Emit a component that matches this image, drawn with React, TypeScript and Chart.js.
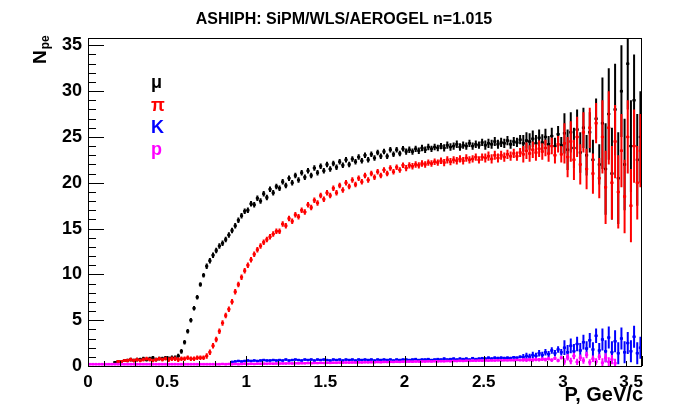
import React, { useEffect, useRef } from "react";
import { Chart, registerables } from "chart.js";

Chart.register(...registerables);

// Histogram binning (TH1: 175 bins from 0 to 3.5 GeV/c)
const N_BINS = 175;
const P_LOW = 0;
const P_HIGH = 3.5;

const chartTitle = "ASHIPH: SiPM/WLS/AEROGEL n=1.015";
const xTitle = "P, GeV/c";
const yTitleMain = "N";
const yTitleSub = "pe";
const particleLabels = ["μ", "π", "K", "p"];

// N_pe per bin, muons
const muValues = [
  null, null, null, null, null, null, null, null, 0.4, 0.5,
  0.5, 0.6, 0.6, 0.7, 0.6, 0.7, 0.7, 0.8, 0.7, 0.8,
  0.9, 0.7, 0.8, 0.8, 0.9, 0.8, 0.9, 0.9, 1.1, 1.6,
  2.6, 3.8, 5.0, 6.3, 7.5, 8.9, 9.9, 10.9, 11.5, 12.1,
  12.6, 13.1, 13.4, 13.8, 14.3, 14.8, 15.3, 15.9, 16.4, 16.9,
  17.0, 17.7, 17.6, 18.3, 18.0, 18.8, 18.4, 19.3, 18.9, 19.6,
  19.4, 20.1, 19.7, 20.5, 20.0, 20.8, 20.3, 21.1, 20.6, 21.3,
  20.8, 21.6, 21.1, 21.8, 21.3, 22.0, 21.5, 22.1, 21.7, 22.3,
  21.9, 22.5, 22.0, 22.6, 22.3, 22.8, 22.4, 23.0, 22.5, 23.1,
  22.7, 23.3, 22.9, 23.4, 22.9, 23.6, 23.1, 23.6, 23.2, 23.7,
  23.4, 23.6, 23.4, 23.7, 23.5, 23.8, 23.6, 23.9, 23.7, 23.9,
  23.8, 24.0, 23.8, 24.1, 23.9, 24.0, 24.2, 23.9, 24.1, 24.0,
  24.3, 24.0, 24.2, 24.1, 24.4, 24.1, 24.3, 24.2, 24.5, 24.2,
  24.4, 24.3, 24.6, 24.2, 24.5, 24.4, 24.7, 24.3, 24.6, 24.5,
  24.8, 24.3, 24.9, 24.4, 25.0, 24.2, 25.1, 24.0, 25.3, 24.1,
  25.4, 23.6, 25.5, 23.8, 25.8, 23.3, 26.0, 23.0, 25.5, 22.5,
  27.0, 22.0, 26.5, 21.5, 27.5, 21.0, 28.0, 20.5, 30.0, 22.0,
  33.0, 24.0, 29.0, 22.5, 25.0,
];

// N_pe per bin, pions
const piValues = [
  null, null, null, null, null, null, null, null, null, 0.5,
  0.5, 0.6, 0.6, 0.7, 0.6, 0.7, 0.6, 0.7, 0.8, 0.7,
  0.6, 0.7, 0.8, 0.7, 0.8, 0.7, 0.8, 0.8, 0.7, 0.8,
  0.8, 0.9, 0.8, 0.8, 0.9, 0.9, 0.9, 1.1, 1.5, 2.2,
  2.9, 3.8, 4.7, 5.5, 6.2, 7.0, 8.1, 8.9, 9.7, 10.4,
  11.0, 11.6, 12.2, 12.7, 13.1, 13.5, 13.8, 14.1, 14.4, 14.7,
  14.7, 15.5, 15.3, 16.1, 15.8, 16.5, 16.3, 17.0, 16.8, 17.6,
  17.3, 18.1, 17.8, 18.6, 18.2, 18.9, 18.6, 19.4, 18.9, 19.7,
  19.2, 20.0, 19.6, 20.3, 19.8, 20.5, 20.1, 20.8, 20.3, 21.0,
  20.6, 21.2, 20.8, 21.4, 21.0, 21.6, 21.2, 21.7, 21.4, 21.9,
  21.6, 21.9, 21.8, 22.0, 21.9, 22.1, 22.0, 22.2, 22.1, 22.3,
  22.2, 22.4, 22.2, 22.5, 22.3, 22.5, 22.4, 22.6, 22.4, 22.7,
  22.5, 22.6, 22.8, 22.5, 22.8, 22.7, 22.9, 22.6, 23.0, 22.7,
  23.0, 22.8, 23.1, 22.9, 23.2, 22.9, 23.3, 23.1, 23.5, 23.2,
  23.6, 23.3, 23.7, 23.4, 23.8, 23.2, 24.0, 23.0, 24.2, 23.1,
  24.3, 22.8, 24.5, 22.5, 25.0, 22.0, 25.5, 21.5, 26.0, 21.0,
  26.5, 20.5, 25.0, 19.5, 26.0, 20.0, 24.5, 19.0, 23.5, 18.5,
  25.0, 17.5, 24.0, 20.0, 23.5,
];

// N_pe per bin, kaons
const kValues = [
  null, null, null, null, null, null, null, null, null, null,
  null, null, null, null, null, null, null, null, null, null,
  null, null, null, null, null, null, null, null, null, null,
  null, null, null, null, null, null, null, null, null, null,
  null, null, null, null, null, 0.45, 0.5, 0.55, 0.5, 0.55,
  0.6, 0.55, 0.6, 0.55, 0.6, 0.65, 0.6, 0.6, 0.65, 0.6,
  0.65, 0.6, 0.7, 0.6, 0.65, 0.7, 0.65, 0.6, 0.7, 0.65,
  0.7, 0.6, 0.7, 0.65, 0.7, 0.65, 0.6, 0.7, 0.65, 0.7,
  0.6, 0.7, 0.65, 0.7, 0.6, 0.7, 0.65, 0.7, 0.65, 0.7,
  0.6, 0.7, 0.65, 0.7, 0.65, 0.7, 0.6, 0.7, 0.65, 0.7,
  0.7, 0.65, 0.7, 0.75, 0.65, 0.7, 0.7, 0.75, 0.65, 0.7,
  0.75, 0.7, 0.8, 0.7, 0.75, 0.8, 0.7, 0.8, 0.75, 0.8,
  0.7, 0.85, 0.75, 0.8, 0.85, 0.8, 0.9, 0.8, 0.9, 0.85,
  0.9, 0.85, 0.9, 0.85, 0.95, 0.9, 1.0, 0.95, 1.1, 1.0,
  1.2, 1.1, 1.4, 1.2, 1.5, 1.3, 1.7, 1.4, 1.8, 1.5,
  2.0, 1.5, 2.2, 1.6, 2.4, 1.7, 2.6, 1.9, 2.8, 1.8,
  3.3, 1.7, 2.9, 1.6, 3.1, 1.5, 2.7, 1.4, 3.0, 1.5,
  2.5, 1.6, 3.2, 1.4, 2.0,
];

// N_pe per bin, protons
const pValues = [
  0.2, 0.2, 0.2, 0.2, 0.2, 0.2, 0.2, 0.2, 0.2, 0.2,
  0.2, 0.2, 0.2, 0.2, 0.2, 0.2, 0.2, 0.2, 0.2, 0.2,
  0.2, 0.2, 0.2, 0.2, 0.2, 0.2, 0.2, 0.2, 0.2, 0.2,
  0.2, 0.2, 0.2, 0.2, 0.2, 0.2, 0.2, 0.2, 0.2, 0.2,
  0.2, 0.2, 0.22, 0.2, 0.22, 0.2, 0.22, 0.2, 0.22, 0.24,
  0.22, 0.24, 0.22, 0.25, 0.24, 0.25, 0.24, 0.26, 0.25, 0.27,
  0.26, 0.28, 0.27, 0.29, 0.28, 0.3, 0.29, 0.31, 0.3, 0.32,
  0.31, 0.33, 0.32, 0.34, 0.33, 0.35, 0.34, 0.36, 0.35, 0.37,
  0.36, 0.38, 0.37, 0.39, 0.38, 0.4, 0.39, 0.41, 0.4, 0.42,
  0.41, 0.43, 0.42, 0.44, 0.43, 0.45, 0.44, 0.46, 0.45, 0.47,
  0.46, 0.48, 0.47, 0.49, 0.48, 0.5, 0.49, 0.51, 0.5, 0.52,
  0.51, 0.53, 0.52, 0.54, 0.53, 0.55, 0.54, 0.56, 0.55, 0.57,
  0.56, 0.58, 0.57, 0.59, 0.58, 0.6, 0.59, 0.61, 0.6, 0.62,
  0.61, 0.63, 0.62, 0.64, 0.63, 0.66, 0.64, 0.67, 0.65, 0.69,
  0.66, 0.72, 0.68, 0.75, 0.7, 0.8, 0.65, 0.85, 0.6, 0.9,
  0.5, 0.95, 0.55, 1.1, 0.45, 0.9, 0.6, 1.2, 0.4, 0.8,
  0.5, 1.0, 0.35, 0.9, 0.45, 0.7, 0.3, null, null, null,
  null, null, null, null, null,
];

// Typical statistical error per 0.25 GeV/c slice (14 slices)
const muErrors = [0.15, 0.2, 0.25, 0.3, 0.3, 0.3, 0.3, 0.3, 0.35, 0.4, 0.5, 0.9, 2.2, 5.0];
const piErrors = [0.15, 0.2, 0.25, 0.3, 0.3, 0.3, 0.3, 0.3, 0.35, 0.4, 0.5, 0.9, 2.2, 4.0];
const kErrors = [0.1, 0.1, 0.1, 0.1, 0.1, 0.1, 0.1, 0.1, 0.1, 0.12, 0.15, 0.35, 0.8, 1.2];
const pErrors = [0.05, 0.05, 0.05, 0.05, 0.05, 0.05, 0.06, 0.06, 0.07, 0.08, 0.1, 0.2, 0.35, 0.5];

const seriesColors = ["#000000", "#ff0000", "#0000ff", "#ff00ff"];

const FONT = "'Liberation Sans', Arial, Helvetica, sans-serif";

const binWidth = (P_HIGH - P_LOW) / N_BINS;
const binCenters = Array.from({ length: N_BINS }, (_, i) => P_LOW + (i + 0.5) * binWidth);

function toPoints(values: (number | null)[]) {
  return binCenters.map((x, i) => ({ x, y: values[i] }));
}

const errorBarPlugin = {
  id: "errorBars",
  afterDatasetDraw(chart: any, args: any) {
    const ds = chart.data.datasets[args.index];
    if (!ds.errors) return;
    const { ctx, chartArea, scales } = chart;
    const xs = scales.x;
    const ys = scales.y;
    ctx.save();
    ctx.beginPath();
    ctx.rect(chartArea.left, chartArea.top, chartArea.right - chartArea.left, chartArea.bottom - chartArea.top);
    ctx.clip();
    ctx.strokeStyle = ds.borderColor;
    ctx.lineWidth = 2;
    ctx.beginPath();
    ds.data.forEach((pt: any) => {
      if (pt.y === null || pt.y === undefined) return;
      const slice = Math.min(ds.errors.length - 1, Math.floor(pt.x / 0.25));
      const e = ds.errors[slice];
      const px = xs.getPixelForValue(pt.x);
      const py = ys.getPixelForValue(pt.y);
      const y1 = ys.getPixelForValue(pt.y - e);
      const y2 = ys.getPixelForValue(pt.y + e);
      const x1 = xs.getPixelForValue(pt.x - binWidth / 2);
      const x2 = xs.getPixelForValue(pt.x + binWidth / 2);
      ctx.moveTo(px, y1);
      ctx.lineTo(px, y2);
      ctx.moveTo(x1, py);
      ctx.lineTo(x2, py);
    });
    ctx.stroke();
    ctx.restore();
  },
};

const framePlugin = {
  id: "rootFrame",
  afterDraw(chart: any) {
    const { ctx, chartArea, scales } = chart;
    const xs = scales.x;
    const ys = scales.y;
    const { left, right, top, bottom } = chartArea;
    ctx.save();
    ctx.strokeStyle = "#000";
    ctx.lineWidth = 1;
    ctx.strokeRect(left + 0.5, top + 0.5, right - left - 1, bottom - top);
    // y ticks (inside)
    ctx.beginPath();
    for (let k = 0; k <= 35; k++) {
      const py = Math.round(ys.getPixelForValue(k)) + 0.5;
      const len = k % 5 === 0 ? 16 : 8;
      ctx.moveTo(left, py);
      ctx.lineTo(left + len, py);
    }
    // x ticks (inside)
    for (let k = 0; k <= 35; k++) {
      const px = Math.round(xs.getPixelForValue(k / 10)) + 0.5;
      const len = k % 5 === 0 ? 10 : 5;
      ctx.moveTo(px, bottom);
      ctx.lineTo(px, bottom - len);
    }
    ctx.stroke();

    ctx.fillStyle = "#000";

    // x tick labels (last one kept inside the frame, as in ROOT)
    ctx.font = `bold 17px ${FONT}`;
    ctx.textBaseline = "alphabetic";
    const xt = xs.ticks;
    xt.forEach((t: any, i: number) => {
      const px = xs.getPixelForValue(t.value);
      const lab = String(Math.round(t.value * 10) / 10);
      if (i === xt.length - 1) {
        ctx.textAlign = "right";
        ctx.fillText(lab, px + 1, 387);
      } else {
        ctx.textAlign = "center";
        ctx.fillText(lab, px, 387);
      }
    });

    // Title
    ctx.font = `bold 16px ${FONT}`;
    ctx.textAlign = "center";
    ctx.fillText(chartTitle, 344, 24);

    // x axis title
    ctx.font = `bold 20px ${FONT}`;
    ctx.textAlign = "right";
    ctx.fillText(xTitle, right + 1, 401);

    // y axis title, rotated with subscript
    ctx.save();
    ctx.translate(46, 64);
    ctx.rotate(-Math.PI / 2);
    ctx.textAlign = "left";
    ctx.font = `bold 19px ${FONT}`;
    ctx.fillText(yTitleMain, 0, 0);
    const w = ctx.measureText(yTitleMain).width;
    ctx.font = `bold 12px ${FONT}`;
    ctx.fillText(yTitleSub, w + 1, 3);
    ctx.restore();

    // particle legend
    ctx.textAlign = "left";
    ctx.textBaseline = "middle";
    const legendY = [83, 106, 128, 150];
    particleLabels.forEach((lab, i) => {
      ctx.fillStyle = seriesColors[i];
      ctx.font = `bold 18px ${FONT}`;
      ctx.fillText(lab, 151, legendY[i]);
    });
    ctx.restore();
  },
};

export default function App() {
  const canvasRef = useRef<HTMLCanvasElement | null>(null);

  useEffect(() => {
    if (!canvasRef.current) return;
    const mk = (values: (number | null)[], errors: number[], color: string, order: number) => ({
      data: toPoints(values),
      errors,
      borderColor: color,
      backgroundColor: color,
      pointRadius: 1.8,
      pointHoverRadius: 1.8,
      pointBorderWidth: 0,
      pointStyle: "rect",
      showLine: false,
      order,
    });
    const chart = new Chart(canvasRef.current, {
      type: "scatter",
      data: {
        datasets: [
          mk(muValues, muErrors, seriesColors[0], 4),
          mk(piValues, piErrors, seriesColors[1], 3),
          mk(kValues, kErrors, seriesColors[2], 2),
          mk(pValues, pErrors, seriesColors[3], 1),
        ] as any,
      },
      options: {
        animation: false,
        responsive: false,
        layout: { padding: { top: 38, right: 35, left: 0, bottom: 0 } },
        plugins: { legend: { display: false }, tooltip: { enabled: false }, title: { display: false } },
        scales: {
          x: {
            type: "linear",
            min: P_LOW,
            max: P_HIGH,
            grid: { display: false, drawTicks: false },
            border: { display: false },
            afterFit: (s: any) => {
              s.height = 43;
            },
            ticks: {
              display: false,
              stepSize: 0.5,
              includeBounds: false,
              autoSkip: false,
              maxRotation: 0,
            },
          },
          y: {
            type: "linear",
            min: 0,
            max: 35.8,
            grid: { display: false, drawTicks: false },
            border: { display: false },
            afterFit: (s: any) => {
              s.width = 88;
            },
            ticks: {
              stepSize: 5,
              includeBounds: false,
              padding: 6,
              color: "#000",
              font: { family: FONT, size: 18, weight: "bold" },
              callback: (v: any) => String(v),
            },
          },
        },
      } as any,
      plugins: [errorBarPlugin, framePlugin],
    });
    return () => chart.destroy();
  }, []);

  return (
    <div style={{ position: "absolute", left: 0, top: 0, width: 677, height: 409, background: "#fff" }}>
      <canvas ref={canvasRef} width={677} height={409} style={{ display: "block" }} />
    </div>
  );
}
